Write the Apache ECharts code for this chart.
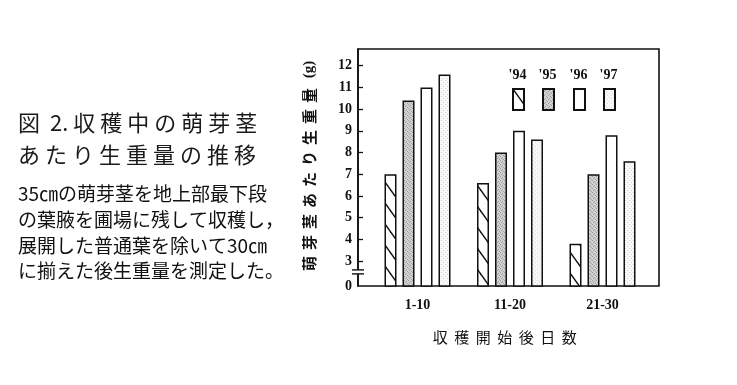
<!DOCTYPE html>
<html><head><meta charset="utf-8">
<script src="https://cdn.jsdelivr.net/npm/echarts@6/dist/echarts.min.js"></script>
<style>html,body{margin:0;padding:0;background:#fff}#c{width:737px;height:385px}</style>
</head><body><div id="c"></div>
<script>
// ---- data ----
const categories = ['1-10', '11-20', '21-30'];
const seriesNames = ["'94", "'95", "'96", "'97"];
const values94 = [7.0, 6.6, 3.8];
const values95 = [10.4, 8.0, 7.0];
const values96 = [11.0, 9.0, 8.8];
const values97 = [11.6, 8.6, 7.6];
const yTickValues = [3, 4, 5, 6, 7, 8, 9, 10, 11, 12];
const yAxisBottom = 1.85;   // broken axis: bottom of frame is labelled "0"
const yAxisTop = 12.77;
const captionTitle = ['図 2.収穫中の萌芽茎', 'あたり生重量の推移'];
const captionBody = ['35㎝の萌芽茎を地上部最下段', 'の葉腋を圃場に残して収穫し，', '展開した普通葉を除いて30㎝', 'に揃えた後生重量を測定した。'];
const yAxisName = '萌芽茎あたり生重量';
const yAxisUnit = '(g)';
const xAxisName = '収穫開始後日数';

// ---- patterns ----
function hatchPattern() {
  const w = 15, h = 21;
  const c = document.createElement('canvas'); c.width = w; c.height = h;
  const g = c.getContext('2d');
  g.fillStyle = '#fff'; g.fillRect(0, 0, w, h);
  g.strokeStyle = '#111'; g.lineWidth = 1.4;
  for (const m of [-1, 0, 1]) {
    g.beginPath();
    g.moveTo(-2, -2 * h / w + m * h);
    g.lineTo(w + 2, (w + 2) * h / w + m * h);
    g.stroke();
  }
  return { image: c, repeat: 'repeat' };
}
function stipple(bg, dot, pts) {
  const c = document.createElement('canvas'); c.width = 4; c.height = 4;
  const g = c.getContext('2d');
  g.fillStyle = bg; g.fillRect(0, 0, 4, 4);
  g.fillStyle = dot;
  pts.forEach(p => g.fillRect(p[0], p[1], 1, 1));
  return { image: c, repeat: 'repeat' };
}
const fills = [
  hatchPattern(),
  stipple('#d2d2d2', '#9c9c9c', [[0, 0], [2, 1], [1, 2], [3, 3]]),
  '#ffffff',
  stipple('#f8f8f8', '#dadada', [[1, 0], [3, 2]])
];
const seriesData = [values94, values95, values96, values97];

const spaced = (s, k) => [...s].map(ch => `{${k}|${ch}}`).join('');
const serifBold = 'bold 14px "Liberation Serif"';
const legendLeft = [512, 542, 573, 603];

const chart = echarts.init(document.getElementById('c'), null, { renderer: 'canvas' });

const option = {
  animation: false,
  backgroundColor: '#fff',
  grid: [
    { left: 358, top: 49, width: 301, height: 237, show: true, borderColor: '#111', borderWidth: 1.6, backgroundColor: 'transparent' },
    { left: 371.25, top: 49, width: 277.5, height: 237 }
  ],
  xAxis: [
    { gridIndex: 0, type: 'value', show: false, min: 0, max: 1 },
    { gridIndex: 1, type: 'category', data: categories, axisLine: { show: false }, axisTick: { show: false },
      axisLabel: { margin: 12, color: '#111', fontFamily: 'Liberation Serif', fontWeight: 'bold', fontSize: 14 } }
  ],
  yAxis: [
    { gridIndex: 0, type: 'value', min: yAxisBottom, max: yAxisTop,
      splitLine: { show: false },
      axisLine: { show: true, lineStyle: { color: '#111', width: 1.6 } },
      axisTick: { show: true, inside: true, length: 5, lineStyle: { color: '#111', width: 1.3 }, customValues: yTickValues },
      axisLabel: { margin: 6, color: '#111', fontFamily: 'Liberation Serif', fontWeight: 'bold', fontSize: 14,
        customValues: [yAxisBottom].concat(yTickValues),
        formatter: v => (Math.abs(v - yAxisBottom) < 1e-6 ? '0' : String(v)) } },
    { gridIndex: 1, type: 'value', min: yAxisBottom, max: yAxisTop, show: false, splitLine: { show: false } }
  ],
  legend: seriesNames.map((n, i) => ({
    data: [n], left: legendLeft[i], top: 88, itemWidth: 11, itemHeight: 21, padding: 0,
    icon: 'rect', selectedMode: false, formatter: () => '', itemGap: 0
  })),
  series: seriesNames.map((n, i) => ({
    name: n, type: 'bar', xAxisIndex: 1, yAxisIndex: 1, data: seriesData[i],
    barWidth: 12, barGap: '50%', clip: true,
    itemStyle: { color: fills[i], borderColor: '#111', borderWidth: 1.5 }
  })),
  graphic: []
};
chart.setOption(option);

// ---- text & decorations ----
const g = [];
// caption
g.push({ type: 'text', left: 18, top: 112, style: {
  text: '{t|図}{n| 2}{t|.}' + spaced('収穫中の萌芽茎', 't'),
  fill: '#1a1a1a',
  rich: { t: { fontFamily: 'Noto Sans CJK JP', fontSize: 22, padding: [0, 5, 0, 0], fill: '#1a1a1a' },
          n: { fontFamily: 'Noto Sans CJK JP', fontSize: 22, fill: '#1a1a1a' } } } });
g.push({ type: 'text', left: 18, top: 144, style: {
  text: spaced(captionTitle[1], 't'),
  rich: { t: { fontFamily: 'Noto Sans CJK JP', fontSize: 22, padding: [0, 5, 0, 0], fill: '#1a1a1a' } } } });
const bodyY = [194, 220, 246, 271];
captionBody.forEach((s, i) => g.push({ type: 'text', x: 18, y: bodyY[i], style: {
  text: s, font: '19px "Noto Sans CJK JP"', fill: '#111', align: 'left', verticalAlign: 'middle' } }));

// y-axis name (reads bottom to top)
g.push({ type: 'text', x: 309, y: 166, rotation: Math.PI / 2, style: {
  text: spaced(yAxisName, 'c') + '{u| ' + yAxisUnit + '}', align: 'center', verticalAlign: 'middle',
  rich: { c: { fontFamily: 'Noto Sans CJK JP', fontWeight: 'bold', fontSize: 15, padding: [0, 6, 0, 0], fill: '#111' },
          u: { fontFamily: 'Liberation Serif', fontWeight: 'bold', fontSize: 15, fill: '#111' } } } });
// x-axis name
g.push({ type: 'text', x: 508, y: 337, style: {
  text: spaced(xAxisName, 'c'), align: 'center', verticalAlign: 'middle',
  rich: { c: { fontFamily: 'Noto Sans CJK JP', fontSize: 15, padding: [0, 6.5, 0, 0], fill: '#111' } } } });
// legend labels
seriesNames.forEach((n, i) => g.push({ type: 'text', x: legendLeft[i] + 5.5, y: 75, style: {
  text: n, font: serifBold, fill: '#111', align: 'center', verticalAlign: 'middle' } }));
// axis break mark
const yb = chart.convertToPixel({ yAxisIndex: 0 }, 2.5);
const xa = chart.convertToPixel({ xAxisIndex: 0 }, 0);
g.push({ type: 'rect', shape: { x: xa - 2, y: yb - 2, width: 4, height: 4 }, style: { fill: '#fff' }, z: 100 });
g.push({ type: 'line', shape: { x1: xa - 6, y1: yb - 2, x2: xa + 6, y2: yb - 2 }, style: { stroke: '#111', lineWidth: 1.4 }, z: 101 });
g.push({ type: 'line', shape: { x1: xa - 6, y1: yb + 2, x2: xa + 6, y2: yb + 2 }, style: { stroke: '#111', lineWidth: 1.4 }, z: 101 });

chart.setOption({ graphic: g });
</script>
</body></html>
